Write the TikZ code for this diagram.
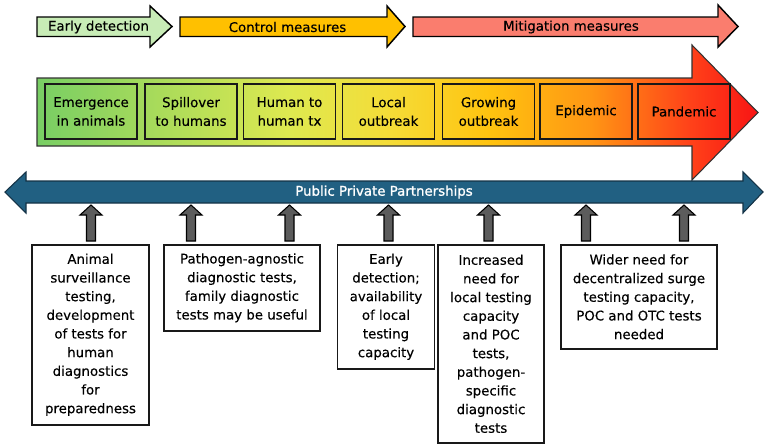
\documentclass[tikz,border=0pt]{standalone}
\usepackage{fontspec}
\setmainfont{DejaVu Sans}[FakeBold=0.3]
\newfontfamily\pppfont{DejaVu Sans}[FakeBold=1.2]

\definecolor{earlygreen}{RGB}{200,236,182}
\definecolor{controlyellow}{RGB}{255,192,0}
\definecolor{mitigationred}{RGB}{250,125,110}
\definecolor{pppblue}{RGB}{33,96,130}
\definecolor{pppedge}{RGB}{20,50,70}
\definecolor{arrowgray}{RGB}{92,92,92}
\definecolor{gA}{RGB}{120,206,100}
\definecolor{gB}{RGB}{222,233,80}
\definecolor{gC}{RGB}{245,220,55}
\definecolor{gD}{RGB}{255,195,15}
\definecolor{gE}{RGB}{255,150,20}
\definecolor{gF}{RGB}{255,65,25}
\definecolor{gG}{RGB}{248,20,20}

\pgfdeclarehorizontalshading{stagegrad}{100bp}{color(0bp)=(gA); color(25bp)=(gA);
  color(42.5bp)=(gB); color(49.5bp)=(gC); color(56.4bp)=(gD); color(63.4bp)=(gE);
  color(70.3bp)=(gF); color(75bp)=(gG); color(100bp)=(gG)}

\begin{document}
\begin{tikzpicture}[
    x=0.75pt, y=-0.75pt,
    lbl/.style={font=\fontsize{10}{14}\selectfont, align=center, inner sep=0pt},
    phasearrow/.style={draw=black, line width=1.1pt, line join=miter},
    stage/.style={lbl, draw=black!90, line width=1.4pt, minimum width=69pt, minimum height=41pt},
    info/.style={lbl, draw=black!90, line width=1.2pt, fill=white, anchor=north},
    grayarrow/.style={draw=black, line width=0.8pt, fill=arrowgray, line join=miter}
]
    \useasboundingbox (0,0) rectangle (767,447);

    % measures along the top
    \draw[phasearrow, fill=earlygreen] (37,17) -- (150,17) -- (150,6) -- (172,26.5) -- (150,47) -- (150,36.5) -- (37,36.5) -- cycle;
    \draw[phasearrow, fill=controlyellow] (180,17) -- (387,17) -- (387,6) -- (405,26.5) -- (387,47) -- (387,36.5) -- (180,36.5) -- cycle;
    \draw[phasearrow, fill=mitigationred] (413,17) -- (718,17) -- (718,5) -- (738,26.5) -- (718,47) -- (718,36.5) -- (413,36.5) -- cycle;
    \node[lbl] (early) at (98.5,27) {Early detection};
    \node[lbl] (control) at (287.5,27) {Control measures};
    \node[lbl] (mitigation) at (571,27) {Mitigation measures};

    % outbreak stages
    \shadedraw[shading=stagegrad, draw=black!80, line width=0.8pt, line join=miter]
        (37,78) -- (692,78) -- (692,45) -- (758,112.5) -- (692,180) -- (692,146) -- (37,146) -- cycle;
    \node[stage] (s1) at (91,111.5) {Emergence\\in animals};
    \node[stage] (s2) at (191,111.5) {Spillover\\to humans};
    \node[stage] (s3) at (289.5,111.5) {Human to\\human tx};
    \node[stage] (s4) at (388.5,111.5) {Local\\outbreak};
    \node[stage] (s5) at (488.5,111.5) {Growing\\outbreak};
    \node[stage] (s6) at (586,111.5) {Epidemic};
    \node[stage] (s7) at (684,111.5) {Pandemic};

    % partnerships
    \draw[draw=pppedge, fill=pppblue, line width=0.8pt, line join=miter]
        (5,192) -- (26,172) -- (26,181) -- (743,181) -- (743,172) -- (763,192) -- (743,213) -- (743,203) -- (26,203) -- (26,213) -- cycle;
    \node[lbl, text=white, font=\pppfont\fontsize{10}{14}\selectfont] (ppp) at (384,192) {Public Private Partnerships};

    % testing needs
    \node[info, minimum width=87.75pt, minimum height=135pt] (boxA) at (90.5,244)
        {Animal\\surveillance\\testing,\\development\\of tests for\\human\\diagnostics\\for\\preparedness};
    \node[info, minimum width=117pt, minimum height=64.5pt] (boxB) at (242,244)
        {Pathogen-agnostic\\diagnostic tests,\\family diagnostic\\tests may be useful};
    \node[info, minimum width=72.75pt, minimum height=93pt] (boxC) at (386,244)
        {Early\\detection;\\availability\\of local\\testing\\capacity};
    \node[info, minimum width=79.5pt, minimum height=148.5pt] (boxD) at (491,244)
        {Increased\\need for\\local testing\\capacity\\and POC\\tests,\\pathogen-\\specific\\diagnostic\\tests};
    \node[info, minimum width=117pt, minimum height=78pt] (boxE) at (639,244)
        {Wider need for\\decentralized surge\\testing capacity,\\POC and OTC tests\\needed};

    \foreach \st/\bx in {s1/boxA, s2/boxB, s3/boxB, s4/boxC, s5/boxD, s6/boxE, s7/boxE}
        \draw[grayarrow] (\st |- \bx.north) ++(-4.5,-3) -- ++(0,-26) -- ++(-6.5,0) -- ++(11,-10) -- ++(11,10) -- ++(-6.5,0) -- ++(0,26) -- cycle;
\end{tikzpicture}
\end{document}
